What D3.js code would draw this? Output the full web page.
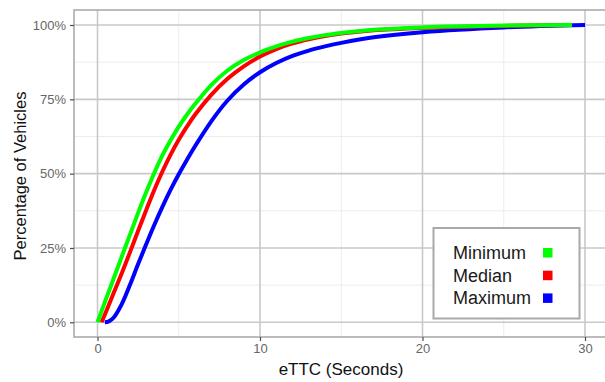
<!DOCTYPE html>
<html>
<head>
<meta charset="utf-8">
<script src="https://cdn.jsdelivr.net/npm/d3@7"></script>
<style>
  body { margin: 0; background: #fff; }
  svg { display: block; font-family: "Liberation Sans", Arial, sans-serif; }
</style>
</head>
<body>
<div id="chart"></div>
<script>
// eTTC values (seconds) and cumulative share of vehicles (%) per series
var minT = [0, 0.5, 1, 1.5, 2, 2.5, 3, 3.5, 4, 4.5, 5, 5.5, 6, 7, 8, 9, 10, 11, 12, 13, 14, 15, 17, 20, 25, 29.2];
var minP = [0, 7.5, 14.8, 22.2, 29.5, 36.8, 43.8, 50.3, 56.2, 61.2, 65.8, 69.8, 73.4, 79.8, 84.7, 88.2, 90.8, 92.8, 94.4, 95.6, 96.6, 97.3, 98.4, 99.2, 99.8, 100];
var medT = [0.25, 0.5, 1, 1.5, 2, 2.5, 3, 3.5, 4, 4.5, 5, 5.5, 6, 7, 8, 9, 10, 11, 12, 13, 14, 15, 17, 20, 25, 29.0];
var medP = [0, 3.2, 9.9, 16.6, 23.6, 30.8, 37.8, 44.6, 50.8, 56.4, 61.4, 65.8, 69.8, 76.5, 81.9, 86.1, 89.4, 91.9, 93.8, 95.2, 96.3, 97.1, 98.2, 99.0, 99.7, 100];
var maxT = [0.45, 0.7, 1, 1.5, 2, 2.5, 3, 3.5, 4, 4.5, 5, 5.5, 6, 7, 8, 9, 10, 11, 12, 13, 14, 15, 17, 20, 25, 30];
var maxP = [0, 0.3, 1.6, 6.2, 12.6, 19.6, 26.3, 32.8, 38.9, 44.6, 49.8, 54.6, 59.2, 67.6, 74.6, 80.0, 84.1, 87.2, 89.6, 91.4, 92.8, 94.0, 95.9, 97.6, 99.2, 100];

var seriesNames = ["Minimum", "Median", "Maximum"];
var seriesColors = ["#00ff00", "#ff0000", "#0000ff"];
var xTicks = [0, 10, 20, 30];
var xMinor = [5, 15, 25];
var yTicks = [0, 25, 50, 75, 100];
var yMinor = [12.5, 37.5, 62.5, 87.5];

var W = 605, H = 382;
var svg = d3.select('#chart').append('svg').attr('width', W).attr('height', H);

var pl = 74, pt = 10, pb = 337, pr = 610;
var x = d3.scaleLinear().domain([0, 30]).range([97.5, 585]);
var y = d3.scaleLinear().domain([0, 100]).range([322.3, 25]);

// panel
svg.append('rect').attr('x', pl).attr('y', pt).attr('width', pr - pl).attr('height', pb - pt)
    .attr('fill', '#fff');

var grid = svg.append('g');
grid.selectAll('.xminor').data(xMinor).enter().append('line')
    .attr('x1', function(d){ return x(d); }).attr('x2', function(d){ return x(d); })
    .attr('y1', pt).attr('y2', pb).attr('stroke', '#ececec').attr('stroke-width', 1);
grid.selectAll('.yminor').data(yMinor).enter().append('line')
    .attr('y1', function(d){ return y(d); }).attr('y2', function(d){ return y(d); })
    .attr('x1', pl).attr('x2', pr).attr('stroke', '#ececec').attr('stroke-width', 1);
grid.selectAll('.xmajor').data(xTicks).enter().append('line')
    .attr('x1', function(d){ return x(d); }).attr('x2', function(d){ return x(d); })
    .attr('y1', pt).attr('y2', pb).attr('stroke', '#c9c9c9').attr('stroke-width', 1.6);
grid.selectAll('.ymajor').data(yTicks).enter().append('line')
    .attr('y1', function(d){ return y(d); }).attr('y2', function(d){ return y(d); })
    .attr('x1', pl).attr('x2', pr).attr('stroke', '#c9c9c9').attr('stroke-width', 1.6);

// curves (blue underneath, green on top)
var line = d3.line().x(function(d){ return x(d[0]); }).y(function(d){ return y(d[1]); })
    .curve(d3.curveCatmullRom.alpha(0.5));
var curves = [d3.zip(maxT, maxP), d3.zip(medT, medP), d3.zip(minT, minP)];
var curveColors = [seriesColors[2], seriesColors[1], seriesColors[0]];
svg.append('g').selectAll('path').data(curves).enter().append('path')
    .attr('d', line).attr('fill', 'none')
    .attr('stroke', function(d, i){ return curveColors[i]; })
    .attr('stroke-width', 4).attr('stroke-linejoin', 'round');

// panel border
svg.append('rect').attr('x', pl).attr('y', pt).attr('width', pr - pl).attr('height', pb - pt)
    .attr('fill', 'none').attr('stroke', '#a6a6a6').attr('stroke-width', 1.5);

// axes
var xAxis = svg.append('g').attr('transform', 'translate(0,' + pb + ')')
    .call(d3.axisBottom(x).tickValues(xTicks).tickSize(4).tickPadding(3).tickFormat(d3.format('d')));
var yAxis = svg.append('g').attr('transform', 'translate(' + pl + ',0)')
    .call(d3.axisLeft(y).tickValues(yTicks).tickSize(4).tickPadding(4).tickFormat(function(d){ return d + '%'; }));
[xAxis, yAxis].forEach(function(a){
    a.select('.domain').remove();
    a.selectAll('.tick line').attr('stroke', '#4d4d4d').attr('stroke-width', 1.2);
    a.selectAll('.tick text').attr('fill', '#666').style('font-size', '13px')
        .style('font-family', '"Liberation Sans", Arial, sans-serif');
});

svg.append('text').attr('x', 341).attr('y', 375).attr('text-anchor', 'middle')
    .style('font-size', '17px').attr('fill', '#111').text('eTTC (Seconds)');
svg.append('text').attr('transform', 'translate(26,176) rotate(-90)').attr('text-anchor', 'middle')
    .style('font-size', '16.5px').attr('fill', '#111').text('Percentage of Vehicles');

// legend
var lg = svg.append('g');
lg.append('rect').attr('x', 433.5).attr('y', 228).attr('width', 146).attr('height', 90.5)
    .attr('fill', '#fff').attr('stroke', '#a9a9a9').attr('stroke-width', 2);
var rows = lg.selectAll('.row').data(seriesNames).enter().append('g')
    .attr('transform', function(d, i){ return 'translate(0,' + (252.5 + i * 22.7) + ')'; });
rows.append('text').attr('x', 453).attr('y', 0).attr('dy', '0.35em')
    .style('font-size', '18px').attr('fill', '#1a1a1a').text(function(d){ return d; });
rows.append('rect').attr('x', 543).attr('y', -4.5).attr('width', 9.5).attr('height', 9.5)
    .attr('fill', function(d, i){ return seriesColors[i]; });
</script>
</body>
</html>
